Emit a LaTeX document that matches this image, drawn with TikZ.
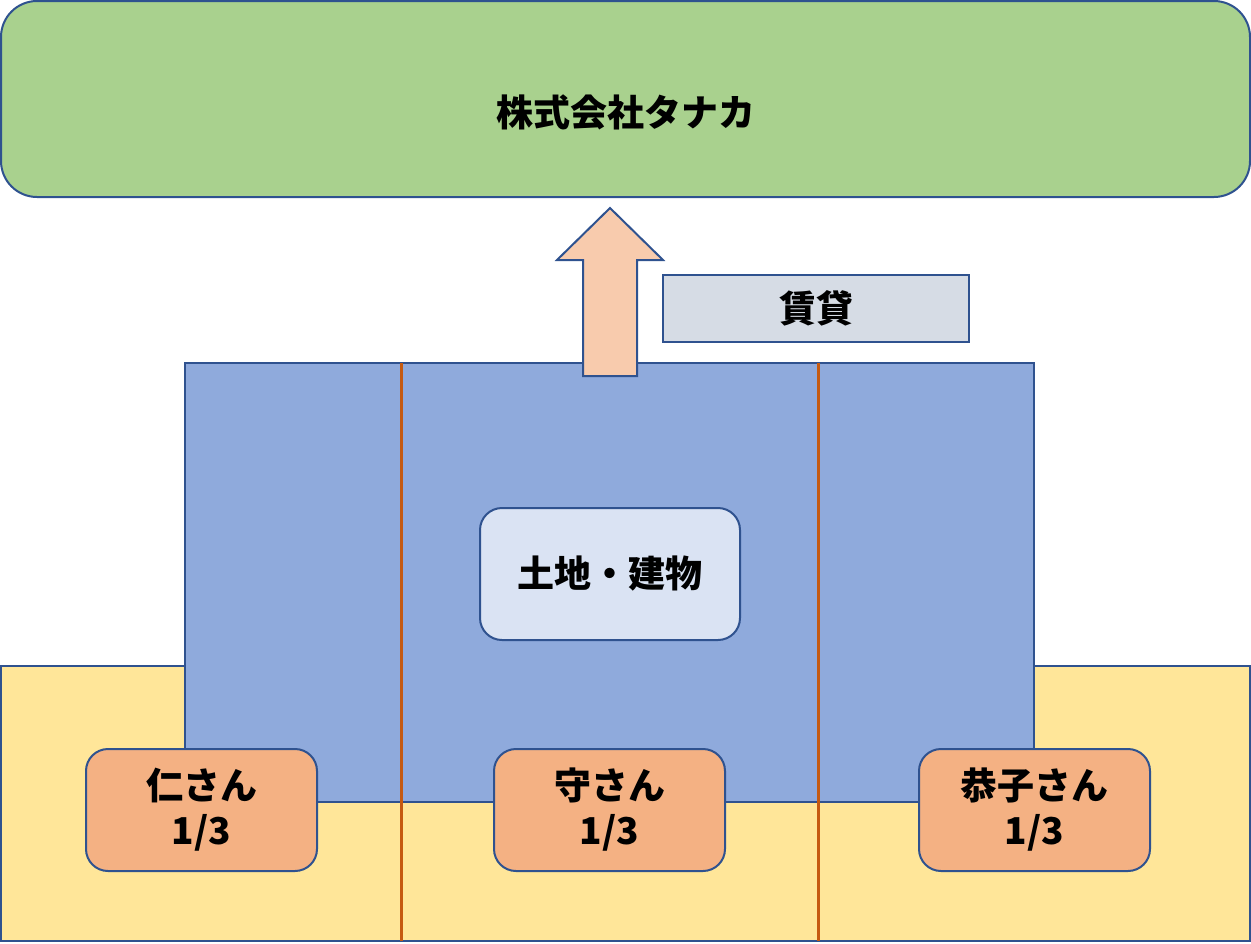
\documentclass[tikz,border=0pt]{standalone}
\usepackage{fontspec}
\setmainfont{Noto Sans CJK JP}
\begin{document}
\begin{tikzpicture}[x=1pt,y=-1pt,
  bd/.style={draw=bordc,line width=2pt},
  txt/.style={font=\fontsize{37}{45}\selectfont\bfseries,align=center,text=black},
  person/.style={bd,fill=personc,rounded corners=22pt}]
\definecolor{bordc}{HTML}{2F528F}
\definecolor{greenc}{HTML}{A9D18E}
\definecolor{bluec}{HTML}{8FAADC}
\definecolor{yellowc}{HTML}{FFE699}
\definecolor{personc}{HTML}{F4B183}
\definecolor{arrowc}{HTML}{F8CBAD}
\definecolor{labelc}{HTML}{D6DCE5}
\definecolor{innerc}{HTML}{DAE3F3}
\definecolor{linec}{HTML}{C55A11}
\useasboundingbox (0,0) rectangle (1251,943);
% company
\draw[bd,fill=greenc,rounded corners=36pt] (1,1) rectangle (1250,197);
\node[txt] (company) at (625.5,112) {株式会社タナカ};
% land
\draw[bd,fill=yellowc] (1,666) rectangle (1250,941);
\draw[bd,fill=bluec] (185,363) rectangle (1034,802);
\coordinate (l1t) at (401,363); \coordinate (l1b) at (401,941);
\coordinate (l2t) at (818,363); \coordinate (l2b) at (818,941);
\draw[linec,line width=3pt] (l1t) -- (l1b);
\draw[linec,line width=3pt] (l2t) -- (l2b);
% arrow
\draw[bd,fill=arrowc,line join=miter] (610,208) -- (663,260) -- (637,260) -- (637,376) -- (583,376) -- (583,260) -- (557,260) -- cycle;
% label
\node[bd,fill=labelc,minimum width=306pt,minimum height=67pt,inner sep=0pt,txt] (lease) at (816,308.5) {賃貸};
% building
\node[bd,fill=innerc,rounded corners=22pt,minimum width=260pt,minimum height=132pt,inner sep=0pt,txt] (bldg) at (610,574) {土地・建物};
% persons
\node[person,minimum width=231pt,minimum height=122pt,inner sep=0pt,txt] (p1) at (201.5,810) {仁さん\\1/3};
\node[person,minimum width=231pt,minimum height=122pt,inner sep=0pt,txt] (p2) at (609.5,810) {守さん\\1/3};
\node[person,minimum width=231pt,minimum height=122pt,inner sep=0pt,txt] (p3) at (1034.5,810) {恭子さん\\1/3};
\end{tikzpicture}
\end{document}
